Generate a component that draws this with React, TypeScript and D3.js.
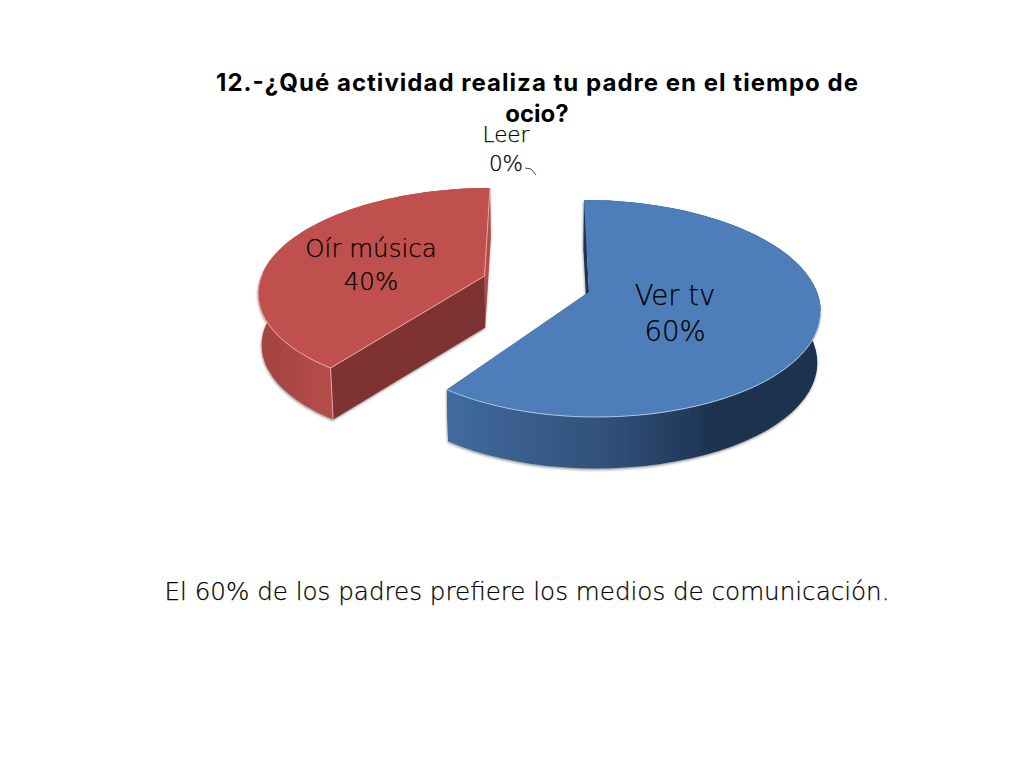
import React from 'react';
import * as d3 from 'd3';

const categories = ['Ver tv', 'Oír música', 'Leer'];
const values = [60, 40, 0];
const titleLines = ['12.-¿Qué actividad realiza tu padre en el tiempo de', 'ocio?'];
const footnote = 'El 60% de los padres prefiere los medios de comunicación.';

const WIDTH = 1024;
const HEIGHT = 768;
const LABEL_FONT = '"DejaVu Sans", sans-serif';

// each slice is exploded on its own, so each one gets its own perspective
const views = [
  { cx: 589, cy: 292, rx: 228, rxLeft: 220, ry: 106, k: 0.152, vx: 551 },
  { cx: 484.5, cy: 276, rx: 223, rxLeft: 223, ry: 100.6, k: 0.143, vx: 528.5 },
];
const looks = [
  {
    top: '#4d7eb9',
    edge: '#a9c3e4',
    wallStart: '#1f3552',
    wallEnd: '#1f3552',
    stops: ['#416b9f', '#2f4f77', '#1d324f', '#1d324f'],
    edgeFrom: 100,
    edgeTo: 216,
  },
  {
    top: '#bf504d',
    edge: '#e6a9a7',
    wallStart: '#7e3230',
    wallEnd: '#b84a47',
    stops: ['#a24341', '#ab4745', '#b34b48', '#b44c49'],
    edgeFrom: 216,
    edgeTo: 272,
  },
];
const labelSpots = [
  { x: 675, y: 305, gap: 36, size: 27.5 },
  { x: 371, y: 257, gap: 33, size: 24.5 },
  { x: 506, y: 142, gap: 29, size: 21.5 },
];

const DEPTH = 51.5;
const SINK_X = 547;
const SINK = 0.988;

type View = (typeof views)[number];
type Pt = [number, number];

const project = (v: View, a: number): Pt => {
  const c = Math.cos(a);
  const u = Math.sin(a);
  const d = 1 + v.k * c;
  const r = u < 0 ? v.rxLeft : v.rx;
  return [v.cx + (r * u) / d + (v.vx - v.cx) * ((v.k * c) / d), v.cy - (v.ry * c) / d];
};
const sink = ([x, y]: Pt): Pt => [SINK_X + (x - SINK_X) * SINK, y + DEPTH];
const arcPoints = (v: View, a0: number, a1: number) =>
  d3.range(0, 61).map((i) => project(v, a0 + ((a1 - a0) * i) / 60));

const line = d3.line<Pt>();
const rad = (deg: number) => (deg * Math.PI) / 180;

const slices = d3
  .pie<number>()
  .sort(null)
  .startAngle(0)
  .endAngle(2 * Math.PI)(values);

const App = () => {
  const apex = (v: View): Pt => [v.cx, v.cy];

  return (
    <svg width={WIDTH} height={HEIGHT} style={{ position: 'absolute', left: 0, top: 0, background: '#fff' }}>
      <defs>
        <filter id="soft" x="-10%" y="-10%" width="120%" height="120%">
          <feDropShadow dx="-0.5" dy="1.5" stdDeviation="1.3" floodColor="#555" floodOpacity="0.6" />
        </filter>
        {views.map((v, i) => {
          const xs = arcPoints(v, slices[i].startAngle, slices[i].endAngle).map((p) => p[0]);
          const [x0, x1] = d3.extent(xs) as [number, number];
          // blue darkens to the right, red keeps close to flat
          return (
            <linearGradient
              key={i}
              id={`side${i}`}
              gradientUnits="userSpaceOnUse"
              x1={x0}
              x2={i === 1 ? 340 : x1}
              y1={0}
              y2={0}
            >
              {looks[i].stops.map((c, j) => (
                <stop key={j} offset={[0, 0.45, 0.72, 1][j]} stopColor={c} />
              ))}
            </linearGradient>
          );
        })}
      </defs>

      {views.map((v, i) => {
        const s = slices[i];
        const look = looks[i];
        const arc = arcPoints(v, s.startAngle, s.endAngle);
        const a = apex(v);
        const pStart = project(v, s.startAngle);
        const pEnd = project(v, s.endAngle);
        const side = [...arc, ...arc.map(sink).reverse()];
        const edgeArc = arcPoints(v, rad(look.edgeFrom), rad(look.edgeTo));
        return (
          <g key={categories[i]}>
            <g filter="url(#soft)">
              <path d={line([pEnd, a, sink(a), sink(pEnd)]) + 'Z'} fill={look.wallEnd} />
              <path d={line(side) + 'Z'} fill={`url(#side${i})`} />
              <path d={line([pStart, a, sink(a), sink(pStart)]) + 'Z'} fill={look.wallStart} />
            </g>
            <path d={line([a, ...arc]) + 'Z'} fill={look.top} />
            <path d={line(edgeArc) as string} fill="none" stroke={look.edge} strokeWidth={1} />
            {i === 1 && (
              <>
                <path d={line([pEnd, a, pStart]) as string} fill="none" stroke={look.edge} strokeWidth={1} />
                <path d={line([pStart, sink(pStart)]) as string} fill="none" stroke={look.edge} strokeWidth={1} />
              </>
            )}
          </g>
        );
      })}

      {/* leader line of the empty slice */}
      <path d="M525,168 L531,169 L536,175" fill="none" stroke="#444" strokeWidth={1} />

      <g fontFamily='Inter, "Liberation Sans", sans-serif' fontWeight={700} fontSize={24} textAnchor="middle" fill="#000">
        {titleLines.map((t, i) => (
          <text key={t} x={537} y={91 + i * 31} textLength={i === 0 ? 642 : undefined} lengthAdjust="spacing">
            {t}
          </text>
        ))}
      </g>

      <g fontFamily={LABEL_FONT} fontWeight={200} textAnchor="middle" fill="#000" stroke="#000" strokeWidth={0.25}>
        {categories.map((c, i) => (
          <g key={c} fontSize={labelSpots[i].size}>
            <text x={labelSpots[i].x} y={labelSpots[i].y}>
              {c}
            </text>
            <text x={labelSpots[i].x} y={labelSpots[i].y + labelSpots[i].gap}>
              {`${values[i]}%`}
            </text>
          </g>
        ))}
        <text x={527} y={600} fontSize={24.6}>
          {footnote}
        </text>
      </g>
    </svg>
  );
};

export default App;
